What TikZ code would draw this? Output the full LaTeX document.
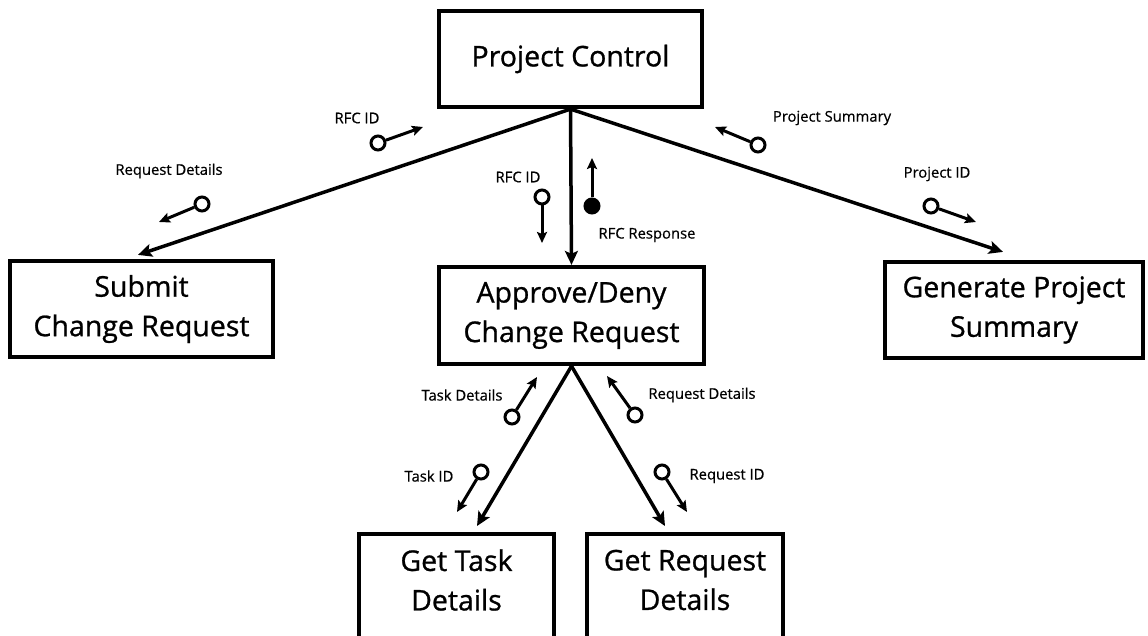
\documentclass[tikz,border=0pt]{standalone}
\usepackage{fontspec}
\setmainfont{Open Sans}
\newfontfamily\heavyfont[FakeBold=0.9]{Open Sans}
\newfontfamily\labelfont[FakeBold=0.6]{Open Sans}
\usetikzlibrary{arrows.meta,calc}

\tikzset{
  procbox/.style={draw, line width=4.2pt, rectangle, inner sep=0pt, align=center,
    font=\heavyfont\fontsize{28.5}{39.5}\selectfont},
  boxtext/.style={inner sep=0pt, align=center, font=\heavyfont\fontsize{28.5}{39.5}\selectfont},
  flow/.style={line width=3.5pt, -{Stealth[length=14pt,width=13pt,inset=3pt]}},
  couple/.style={line width=3pt, -{Stealth[length=11pt,width=10pt,inset=2pt]}},
  datapin/.style={draw, circle, line width=3pt, minimum size=14pt, inner sep=0pt, fill=white},
  ctrlpin/.style={draw, circle, line width=3pt, minimum size=14pt, inner sep=0pt, fill=black},
  flowlabel/.style={inner sep=0pt, font=\labelfont\fontsize{14.8}{17}\selectfont},
}

\begin{document}
\begin{tikzpicture}[x=1pt,y=-1pt]
\clip (0,0) rectangle (1148,636);
\fill[white] (0,0) rectangle (1148,636);

% process boxes
\node[procbox, minimum width=263pt, minimum height=96pt] (pc) at (570.5,59) {Project Control};
\node[procbox, minimum width=263pt, minimum height=96pt] (sub) at (141.5,309) {Submit\\Change Request};
\node[procbox, minimum width=265pt, minimum height=97pt] (ap) at (571.5,315.5) {Approve/Deny\\Change Request};
\node[procbox, minimum width=258pt, minimum height=96pt] (gen) at (1014,310) {Generate Project\\Summary};
\node[procbox, minimum width=195pt, minimum height=130pt, anchor=north] (gt) at (456.5,532) {};
\node[procbox, minimum width=196pt, minimum height=130pt, anchor=north] (gr) at (685,532) {};
\node[boxtext] (gtt) at (456.5,580) {Get Task\\Details};
\node[boxtext] (grt) at (685,580) {Get Request\\Details};

% structure chart connections
\draw[flow] (pc.south) -- ($(sub.north)+(-3.5,-4)$);
\draw[flow] (pc.south) -- (ap.north);
\draw[flow] (pc.south) -- ($(gen.north)+(-11,-8)$);
\draw[flow] (ap.south) -- ($(gt.north)+(20.5,-6)$);
\draw[flow] (ap.south) -- ($(gr.north)+(-20,-6)$);

% couples: Project Control -> Submit Change Request
\node[datapin] (c1) at (378,143) {};
\coordinate (t1) at (423,127);
\draw[couple] (c1) -- (t1);
\node[flowlabel] (l1) at (357,118) {RFC ID};

\node[datapin] (c2) at (202,204) {};
\coordinate (t2) at (159,222);
\draw[couple] (c2) -- (t2);
\node[flowlabel] (l2) at (169,171) {Request Details};

% couples: Project Control -> Approve/Deny
\node[datapin] (c3) at (542,197) {};
\coordinate (t3) at (542,243);
\draw[couple] (c3) -- (t3);
\node[flowlabel] (l3) at (518,177) {RFC ID};

\node[ctrlpin] (c4) at (592,206) {};
\coordinate (t4) at (592,158);
\draw[couple] (c4) -- (t4);
\node[flowlabel] (l4) at (647,235) {RFC Response};

% couples: Project Control -> Generate Project Summary
\node[datapin] (c5) at (758,145) {};
\coordinate (t5) at (715,127);
\draw[couple] (c5) -- (t5);
\node[flowlabel] (l5) at (832,118) {Project Summary};

\node[datapin] (c6) at (931,206) {};
\coordinate (t6) at (976,222);
\draw[couple] (c6) -- (t6);
\node[flowlabel] (l6) at (937,174) {Project ID};

% couples: Approve/Deny -> Get Task Details
\node[datapin] (c7) at (512,417) {};
\coordinate (t7) at (537,377);
\draw[couple] (c7) -- (t7);
\node[flowlabel] (l7) at (462,395) {Task Details};

\node[datapin] (c8) at (481,472) {};
\coordinate (t8) at (457,512);
\draw[couple] (c8) -- (t8);
\node[flowlabel] (l8) at (429,476) {Task ID};

% couples: Approve/Deny -> Get Request Details
\node[datapin] (c9) at (635,415) {};
\coordinate (t9) at (607,376);
\draw[couple] (c9) -- (t9);
\node[flowlabel] (l9) at (702,395) {Request Details};

\node[datapin] (c10) at (662,472) {};
\coordinate (t10) at (687,512);
\draw[couple] (c10) -- (t10);
\node[flowlabel] (l10) at (727,476) {Request ID};
\end{tikzpicture}
\end{document}
